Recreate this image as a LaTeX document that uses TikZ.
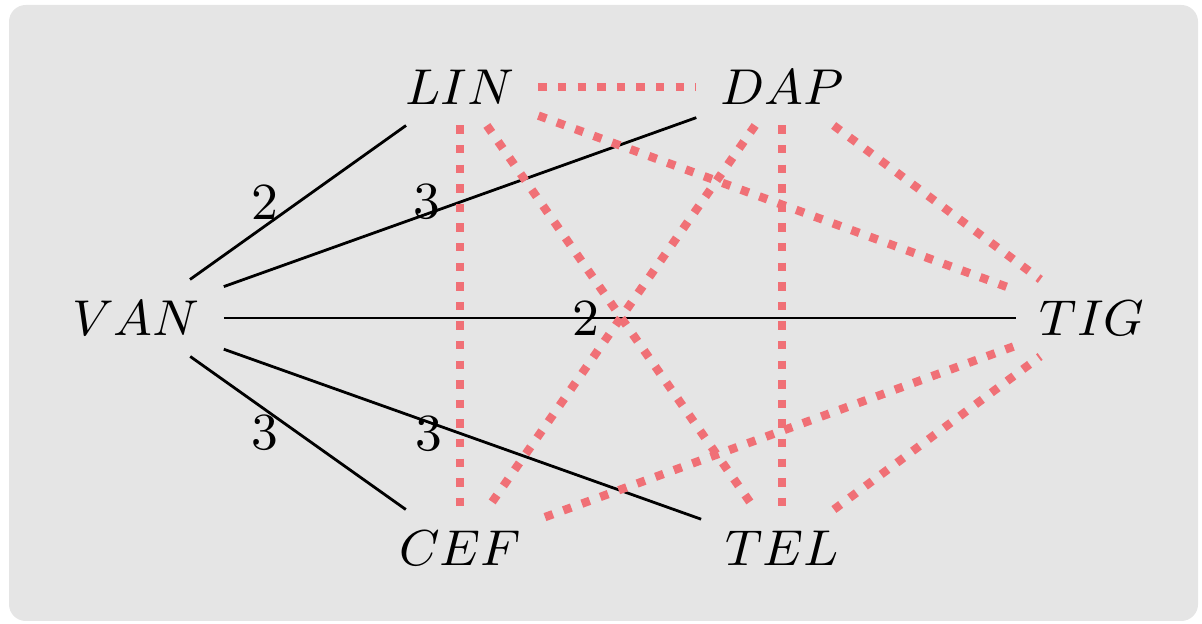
\documentclass[tikz,border=0pt]{standalone}
\usepackage{tikz}
\definecolor{panel}{gray}{0.9}
\definecolor{softred}{RGB}{240,112,118}
\begin{document}
\begin{tikzpicture}[x=0.17857pt,y=-0.17857pt,
  every node/.style={font=\fontsize{9.3pt}{11pt}\selectfont},
  vertex/.style={inner xsep=4.1pt,inner ysep=3.6pt},
  weighted/.style={black,line width=0.5pt},
  conflict/.style={softred,line width=1.5pt,dotted},
  wlabel/.style={midway,left}]
  \useasboundingbox (0,0) rectangle (1202,624);
  \fill[panel,rounded corners=3pt] (9,5) rectangle (1198,621);

  % vertices
  \node[vertex] (VAN) at (136,318) {$VAN$};
  \node[vertex] (LIN) at (460,87)  {$LIN$};
  \node[vertex] (DAP) at (782,87)  {$DAP$};
  \node[vertex] (CEF) at (460,548) {$CEF$};
  \node[vertex] (TEL) at (782,548) {$TEL$};
  \node[vertex] (TIG) at (1092,318) {$TIG$};

  % weighted edges from VAN
  \draw[weighted] (VAN) -- (LIN) node[wlabel] {2};
  \draw[weighted] (VAN) -- (DAP) node[wlabel] {3};
  \draw[weighted] (VAN) -- (TIG) node[wlabel] {2};
  \draw[weighted] (VAN) -- (CEF) node[wlabel] {3};
  \draw[weighted] (VAN) -- (TEL) node[wlabel] {3};

  % conflict edges
  \draw[conflict] (LIN) -- (DAP);
  \draw[conflict] (LIN) -- (CEF);
  \draw[conflict] (LIN) -- (TEL);
  \draw[conflict] (LIN) -- (TIG);
  \draw[conflict] (DAP) -- (CEF);
  \draw[conflict] (DAP) -- (TEL);
  \draw[conflict] (DAP) -- (TIG);
  \draw[conflict] (CEF) -- (TIG);
  \draw[conflict] (TEL) -- (TIG);
\end{tikzpicture}
\end{document}
